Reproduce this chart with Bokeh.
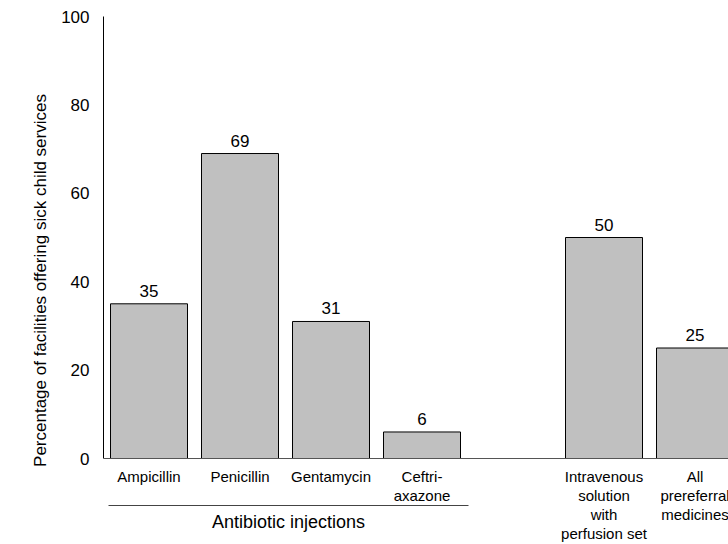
from bokeh.plotting import figure
from bokeh.models import ColumnDataSource, FixedTicker, Span
from bokeh.core.properties import value
from bokeh.embed import file_html
from bokeh.resources import INLINE

# ---- data ----
antibiotic_categories = ["Ampicillin", "Penicillin", "Gentamycin", "Ceftri-\naxazone"]
antibiotic_values = [35, 69, 31, 6]
other_categories = ["Intravenous\nsolution\nwith\nperfusion set", "All\nprereferral\nmedicines"]
other_values = [50, 25]
group_label = "Antibiotic injections"
y_ticks = [0, 20, 40, 60, 80, 100]
y_title = "Percentage of facilities offering sick child services"

FONT = "Liberation Sans"

# slot positions: antibiotic group, one empty slot, then the others
n_ab = len(antibiotic_categories)
xs = list(range(n_ab)) + [n_ab + 1 + i for i in range(len(other_categories))]
cats = antibiotic_categories + other_categories
vals = antibiotic_values + other_values

W, H = 728, 544
BL, BT = 103, 16
px_per_unit = 4.42
frame_h = H - BT
y_start = 100 - frame_h / px_per_unit

slot_px = 91
frame_w = W - BL
x_end = -0.5 + frame_w / slot_px

src = ColumnDataSource(dict(
    x=xs, top=vals, label=[str(v) for v in vals],
    label_y=[v + 13 / px_per_unit for v in vals],
    cat=cats,
))

p = figure(width=W, height=H, output_backend="svg", toolbar_location=None,
           x_range=(-0.5, x_end), y_range=(y_start, 100),
           x_axis_location=None, min_border_left=BL, min_border_right=0,
           min_border_top=BT, min_border_bottom=0)
p.outline_line_color = None
p.xgrid.visible = False
p.ygrid.visible = False
p.background_fill_color = "white"
p.border_fill_color = "white"

ax = p.yaxis[0]
ax.ticker = FixedTicker(ticks=y_ticks)
ax.bounds = (0, 100)
ax.axis_line_color = "black"
ax.axis_line_width = 1
ax.major_tick_line_color = None
ax.minor_tick_line_color = None
ax.major_label_standoff = 8
ax.major_label_text_font = FONT
ax.major_label_text_font_size = "17px"
ax.major_label_text_color = "black"
ax.axis_label = y_title
ax.axis_label_text_font = FONT
ax.axis_label_text_font_size = "17px"
ax.axis_label_text_font_style = "normal"
ax.axis_label_text_color = "black"
ax.axis_label_standoff = 8

# baseline
p.add_layout(Span(location=0, dimension="width", line_color="#555555", line_width=1))

# bars
p.vbar(x="x", top="top", bottom=0, width=77 / slot_px, source=src,
       fill_color="#c0c0c0", line_color="black", line_width=1)

# value labels
p.text(x="x", y="label_y", text="label", source=src, text_align="center",
       text_baseline="alphabetic", text_font=value(FONT), text_font_size="17px",
       text_color="black")

# category labels
p.text(x="x", y=-2.2, text="cat", source=src, text_align="center",
       text_baseline="top", text_font=value(FONT), text_font_size="15px",
       text_line_height=1.12, text_color="black")

# group underline + label
gx0 = -0.5 + 5 / slot_px
gx1 = (n_ab - 1) + 0.5 + 1 / slot_px
gy = -(506 - 459) / px_per_unit
p.segment(x0=[gx0], y0=[gy], x1=[gx1], y1=[gy], line_color="#444444", line_width=1)
p.text(x=[(gx0 + gx1) / 2], y=[-(522 - 459) / px_per_unit], text=[group_label],
       text_align="center", text_baseline="middle", text_font=value(FONT),
       text_font_size="18px", text_color="black")

open("out.html", "w").write(file_html(p, INLINE))
